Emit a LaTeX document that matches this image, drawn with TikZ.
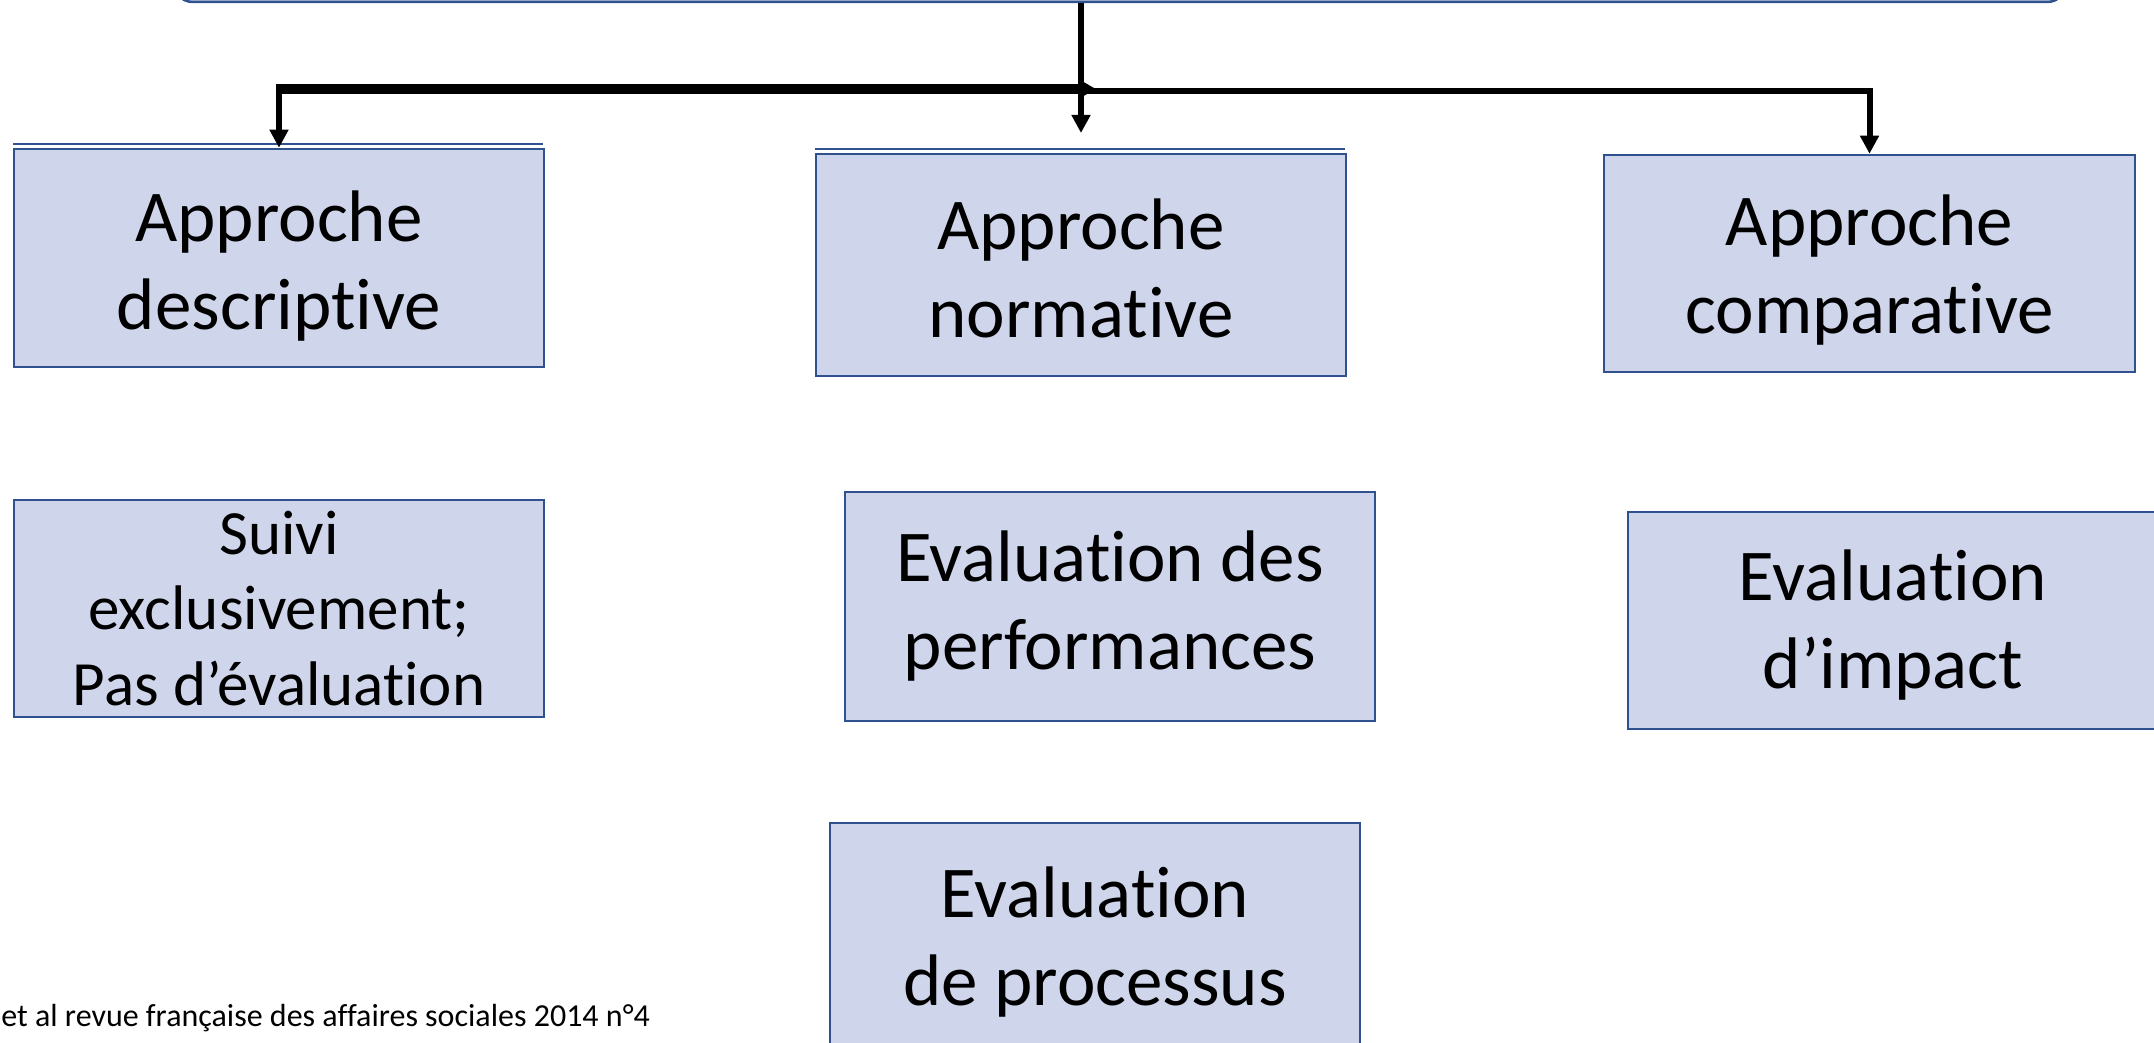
\documentclass[tikz,border=0pt]{standalone}
\usepackage{fontspec}
\setmainfont{Carlito}[Ligatures={NoCommon}]
\usetikzlibrary{arrows.meta}
\definecolor{boxfill}{RGB}{207,213,234}
\definecolor{boxline}{RGB}{47,82,143}
\begin{document}
\begin{tikzpicture}[x=0.5pt,y=-0.5pt,
  box/.style={draw=boxline, fill=boxfill, line width=1.25pt, minimum width=265pt,
    inner sep=0pt, align=center, font=\fontsize{36.5}{44}\selectfont},
  txt/.style={inner sep=0pt, align=center, font=\fontsize{36.5}{44}\selectfont},
  edgeline/.style={draw=boxline, line width=1.25pt},
  conn/.style={line width=3pt, -{Triangle[length=9pt,width=9pt]}},
  thickconn/.style={line width=5pt, -{Triangle[length=8.5pt,width=9pt]}},
  src/.style={anchor=base west, inner sep=0pt, font=\fontsize{16}{19}\selectfont}
]
\useasboundingbox (0,0) rectangle (2154,1043);
% top box (mostly outside the picture)
\node[box, rounded corners=10pt, minimum width=947pt, minimum height=100pt] (top) at (1120,-98) {};
% level 1
\node[box, minimum height=109pt] (desc) at (279,258) {};
\node[txt] (descT) at (279,266) {Approche\\descriptive};
\node[box, minimum height=111pt] (norm) at (1081,265) {};
\node[txt] (normT) at (1081,268) {Approche\\normative};
\node[box, minimum width=265.5pt, minimum height=108.5pt] (comp) at (1869.5,263.5) {};
\node[txt] (compT) at (1869.5,270) {Approche\\comparative};
% doubled top edges
\draw[edgeline] (desc.north west) ++(0,-3.5) -- ++(530,0);
\draw[edgeline] (norm.north west) ++(0,-3.5) -- ++(530,0);
% level 2
\node[box, minimum height=108.5pt, font=\fontsize{31.5}{37.8}\selectfont] (suivi) at (279,608.5) {Suivi\\exclusivement;\\Pas d’évaluation};
\node[box, minimum height=114.5pt] (perf) at (1110,606.5) {Evaluation des\\performances};
\node[box, minimum height=108.5pt] (impact) at (1893,620.5) {};
\node[txt] (impactT) at (1893,625) {Evaluation\\d’impact};
\node[box, minimum height=113pt] (proc) at (1095,936) {};
\node[txt] (procT) at (1095,942) {Evaluation\\de processus};
% source
\node[src] (source) at (1,1026) {et al revue française des affaires sociales 2014 n°4};
% connectors
\coordinate (jL) at (1081,89);
\coordinate (jR) at (1096,89);
\coordinate (jT) at (1081,91);
\coordinate (mtip) at (1081,133);
\draw[thickconn] (desc.north |- jL) -- (jR);
\draw[conn] (desc.north |- 0,84) -- (desc.north);
\draw[conn] (jT) -| (comp.north);
\draw[conn] (top.south -| mtip) -- (mtip);
\end{tikzpicture}
\end{document}
